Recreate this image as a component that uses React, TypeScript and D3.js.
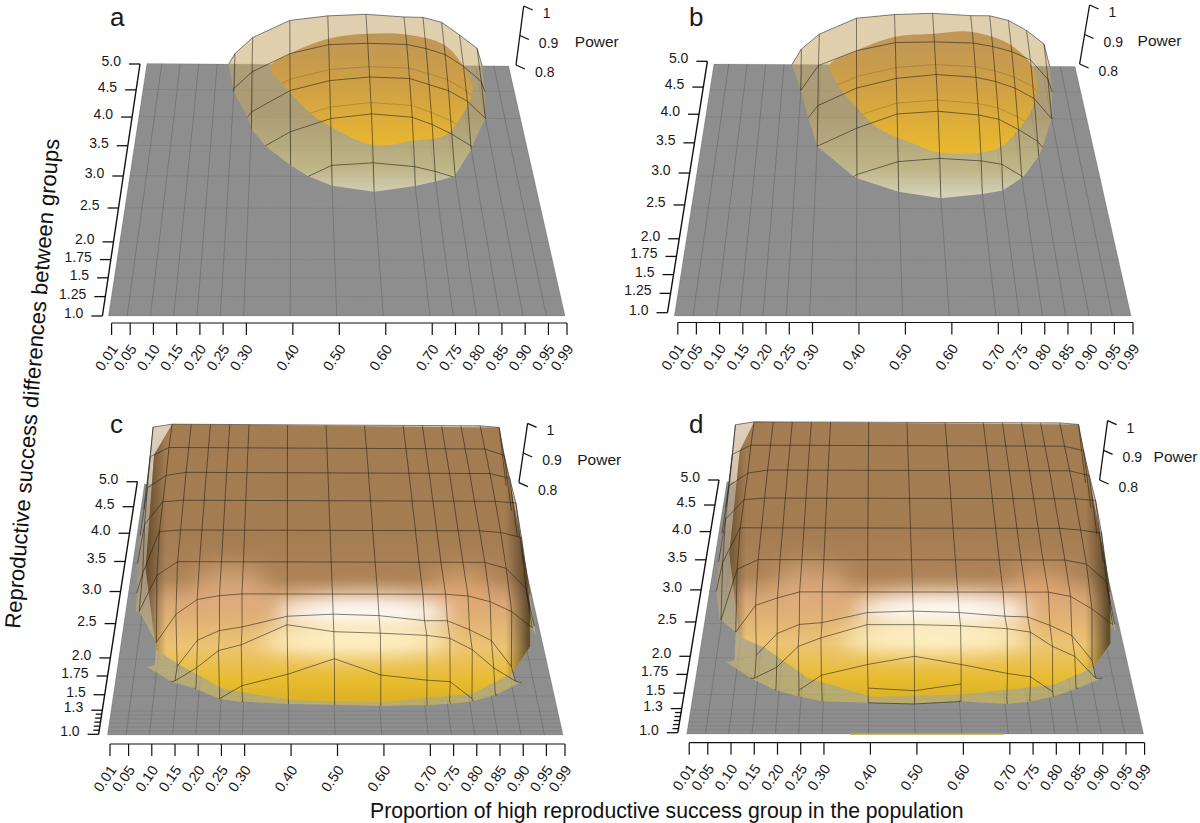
import React from "react";
import * as d3 from "d3";

const pCols = [0.01,0.05,0.10,0.15,0.20,0.25,0.30,0.40,0.50,0.60,0.70,0.75,0.80,0.85,0.90,0.95,0.99];
const pLabels = pCols.map(p => p.toFixed(2));
const zTicks = [0.8, 0.9, 1];
const zLabels = ["0.8", "0.9", "1"];
const FLOOR = 0.8;

const rTicksTop = [5,4.5,4,3.5,3,2.5,2,1.75,1.5,1.25,1];
const rLabelsTop = ["5.0","4.5","4.0","3.5","3.0","2.5","2.0","1.75","1.5","1.25","1.0"];
const rTicksBottom = [5,4.5,4,3.5,3,2.5,2,1.75,1.5,1.3,1.25,1.2,1.15,1.1,1.05,1];
const rLabelsBottom = ["5.0","4.5","4.0","3.5","3.0","2.5","2.0","1.75","1.5","1.3","","","","","","1.0"];

const rowsTop = [5,4.5,4,3.5,3,2.5];
const rowsBottom = [5,4.5,4,3.5,3,2.5,2,1.75,1.5,1.3,1.25,1.2];
const faintRows = [4.15, 3.65];

type V = number | null;

const powerA: V[][] = [
 [.60,.62,.65,.70,.74,.835,.889,.947,.963,.969,.961,.96,.944,.902,.858,.70,.60],
 [.55,.57,.60,.65,.70,.805,.859,.919,.949,.954,.951,.938,.919,.881,.832,.70,.58],
 [.50,.52,.56,.60,.66,.74,.817,.885,.917,.929,.925,.906,.887,.854,.80,.66,.56],
 [.48,.50,.52,.56,.62,.70,.775,.844,.885,.90,.89,.868,.839,.803,.74,.64,.54],
 [.45,.47,.50,.53,.58,.64,.71,.775,.833,.841,.83,.816,.798,.77,.70,.62,.52],
 [.42,.44,.46,.50,.54,.60,.64,.70,.723,.756,.73,.71,.70,.68,.64,.58,.50],
];
const powerB: V[][] = [
 [.60,.62,.65,.70,.76,.852,.902,.956,.969,.974,.967,.967,.952,.919,.874,.70,.60],
 [.55,.57,.60,.65,.71,.80,.881,.93,.957,.96,.957,.946,.93,.903,.841,.70,.58],
 [.50,.52,.56,.60,.67,.765,.838,.894,.925,.938,.93,.917,.896,.864,.80,.66,.56],
 [.48,.50,.52,.56,.63,.72,.80,.856,.90,.909,.898,.885,.854,.818,.75,.64,.54],
 [.45,.47,.50,.53,.58,.65,.73,.806,.845,.855,.848,.838,.803,.76,.70,.62,.52],
 [.42,.44,.46,.50,.54,.60,.65,.70,.751,.774,.759,.75,.70,.68,.64,.58,.50],
];
const powerC: V[][] = [
 [.76,.99,1,1,1,1,1,1,1,1,1,1,1,1,1,.995,.78],
 [.76,.97,1,1,1,1,1,1,1,1,1,1,1,1,1,.98,.78],
 [.76,.95,.99,1,1,1,1,1,1,1,1,1,1,1,1,.985,.78],
 [.75,.92,.99,.995,.995,.995,.995,.995,.995,.995,.995,.995,.995,.995,.995,.99,.78],
 [.74,.86,.985,.99,.99,.99,.99,.99,.99,.99,.99,.99,.99,.99,.985,.97,.78],
 [null,.84,.945,.985,.985,.985,.985,.985,.985,.985,.985,.985,.985,.985,.967,.91,.76],
 [null,null,.847,.927,.969,.98,.985,.985,.985,.985,.985,.985,.98,.964,.936,.89,null],
 [null,null,.834,.83,.903,.93,.94,.97,.976,.972,.958,.958,.933,.903,.83,null,null],
 [null,null,.881,.841,.877,.924,.94,.995,.976,.972,.966,.958,.927,.877,.841,null,null],
 [null,null,.92,.88,.862,.834,.869,.90,.942,.898,.884,.88,.834,.844,.878,null,null],
 [null,null,.93,.89,.871,.844,.835,.855,.855,.85,.846,.837,.839,.855,.888,null,null],
 [null,null,.941,.901,.882,.856,.847,.84,.838,.835,.838,.841,.848,.866,.90,null,null],
];
const powerD: V[][] = [
 [.76,.99,1,1,1,1,1,1,1,1,1,1,1,1,1,.995,.78],
 [.76,.97,1,1,1,1,1,1,1,1,1,1,1,1,1,.985,.78],
 [.76,.95,.99,1,1,1,1,1,1,1,1,1,1,1,1,.985,.78],
 [.75,.93,.99,.995,.995,.995,.995,.995,.995,.995,.995,.995,.995,.995,.995,.99,.78],
 [.74,.887,.99,.99,.99,.99,.99,.99,.99,.99,.99,.99,.99,.99,.985,.976,.78],
 [null,.81,.957,.985,.985,.985,.985,.985,.985,.985,.985,.985,.985,.985,.973,.923,.76],
 [null,null,.872,.947,.968,.985,.985,.985,.985,.985,.985,.985,.985,.973,.938,.894,null],
 [null,null,.843,.857,.917,.942,.947,.975,.979,.975,.965,.963,.94,.912,.843,null,null],
 [null,null,.89,.845,.874,.931,.954,.99,.99,.987,.979,.97,.931,.904,.845,null,null],
 [null,null,.929,.884,.853,.853,.893,.922,.944,.922,.898,.889,.849,.858,.884,null,null],
 [null,null,.94,.896,.865,.847,.835,.869,.862,.88,.842,.835,.847,.869,.896,null,null],
 [null,null,.95,.906,.875,.857,.844,.84,.837,.844,.837,.844,.857,.879,.906,null,null],
];

const coreA_p = [.40,.35,.40,.45,.50,.60,.70,.78,.83,.87,.85,.80,.70,.60,.50];
const coreA_r = [4.5,4.45,3.98,3.65,3.41,3.18,3.26,3.44,3.78,4.27,4.5,4.65,4.68,4.66,4.6];
const coreB_p = [.40,.33,.35,.40,.45,.54,.60,.74,.79,.85,.86,.80,.70,.60,.50];
const coreB_r = [4.5,4.45,4.16,3.76,3.43,3.17,3.06,3.16,3.43,3.95,4.4,4.6,4.7,4.64,4.6];
const coreC_p = [.10,.95,.955,.97,.965,.945,.90,.80,.60,.41,.26,.155,.10,.06,.06];
const coreC_r = [5,5,4,3,2.5,1.9,1.65,1.32,1.22,1.22,1.33,1.74,1.92,2.95,4.5];
const coreD_p = [.10,.95,.955,.97,.965,.945,.90,.80,.60,.41,.27,.17,.11,.07,.07];
const coreD_r = [5,5,4,3,2.5,1.9,1.65,1.33,1.22,1.22,1.33,1.74,1.92,2.95,4.5];

const meshLimitRows = [1.75, 1.5, 1.3];
const meshLimitLow = [0.15, 0.15, 0.25];
const meshLimitHigh = [0.90, 0.90, 0.80];
const undersideP = [0.36, 0.69];
const undersideR = 1;

type Pt = [number, number];
interface Layout {
  id: string; letter: string; kind: "dome" | "wall";
  BL: Pt; BR: Pt; TL: Pt; TR: Pt; persp: number;
  axisY0: Pt; axisY1: Pt; axisX: [number, number]; axisXY: number;
  zAxis0: Pt; zAxis1: Pt; letterAt: Pt; powerDx: number;
  rows: number[]; power: V[][]; coreP: number[]; coreR: number[];
  rTicks: number[]; rLabels: string[]; partialRows: number[];
}

const panels: Layout[] = [
  { id:"a", letter:"a", kind:"dome", BL:[108.5,316], BR:[565,316], TL:[147,63.5], TR:[508.6,66], persp:1.25,
    axisY0:[102.4,316], axisY1:[140,64], axisX:[111.6,567], axisXY:323, zAxis0:[516,65], zAxis1:[523.7,6], letterAt:[110,26], powerDx:55,
    rows:rowsTop, power:powerA, coreP:coreA_p, coreR:coreA_r, rTicks:rTicksTop, rLabels:rLabelsTop, partialRows:[] },
  { id:"b", letter:"b", kind:"dome", BL:[674.4,316], BR:[1131,316], TL:[714,64], TR:[1075,66.5], persp:1.25,
    axisY0:[667.5,312.7], axisY1:[707.4,61.3], axisX:[677.8,1133], axisXY:322.5, zAxis0:[1079.6,64], zAxis1:[1089.6,5], letterAt:[689,26], powerDx:53,
    rows:rowsTop, power:powerB, coreP:coreB_p, coreR:coreB_r, rTicks:rTicksTop, rLabels:rLabelsTop, partialRows:[] },
  { id:"c", letter:"c", kind:"wall", BL:[107.5,735], BR:[563,735], TL:[144.6,484], TR:[507.5,486], persp:1.3,
    axisY0:[98.6,734.3], axisY1:[137.4,481.7], axisX:[110,565], axisXY:744, zAxis0:[518.9,482.7], zAxis1:[527.6,423.3], letterAt:[110,433], powerDx:54,
    rows:rowsBottom, power:powerC, coreP:coreC_p, coreR:coreC_r, rTicks:rTicksBottom, rLabels:rLabelsBottom, partialRows:[] },
  { id:"d", letter:"d", kind:"wall", BL:[686.8,734], BR:[1143.5,734], TL:[727,481.7], TR:[1086.8,483], persp:1.3,
    axisY0:[677.8,732.7], axisY1:[719,480], axisX:[689.2,1144.6], axisXY:742.7, zAxis0:[1099.6,480], zAxis1:[1107.6,420.7], letterAt:[689,433], powerDx:50,
    rows:rowsBottom, power:powerD, coreP:coreD_p, coreR:coreD_r, rTicks:rTicksBottom, rLabels:rLabelsBottom, partialRows:[1.25,1.2] },
];

const FONT = "'Liberation Sans', Arial, sans-serif";

function Panel({ L }: { L: Layout }) {
  const depth = (r: number) => { const u = (r - 1) / 4; return (L.persp * u) / (1 + (L.persp - 1) * u); };
  const pFrac = d3.scaleLinear().domain([0.01, 0.99]).range([0, 1]);
  const cx = (L.BL[0] + L.BR[0]) / 2;
  const backW = L.TR[0] - L.TL[0];
  const zPx = d3.scaleLinear().domain([FLOOR, 1]).range([0, 60]);

  const project = (p: number, r: number, z: number): Pt => {
    const t = depth(r), f = pFrac(p);
    const lx = d3.interpolateNumber(L.BL[0], L.TL[0])(t);
    const rx = d3.interpolateNumber(L.BR[0], L.TR[0])(t);
    const ly = d3.interpolateNumber(L.BL[1], L.TL[1])(t);
    const ry = d3.interpolateNumber(L.BR[1], L.TR[1])(t);
    const px = lx + (rx - lx) * f, py = ly + (ry - ly) * f;
    const scale = (rx - lx) / backW;
    const zn = zPx(z);
    const mid = (lx + rx) / 2;
    return [mid + (px - mid) * (1 + 0.04 * zn / 60), py - zn * scale];
  };

  const zAt = (p: number, r: number) => {
    const i = Math.min(Math.max(d3.bisectRight(pCols, p) - 1, 0), pCols.length - 2);
    let j = 0;
    while (j < L.rows.length - 2 && L.rows[j + 1] >= r) j++;
    const fp = (p - pCols[i]) / (pCols[i + 1] - pCols[i]);
    const fr = (L.rows[j] - r) / (L.rows[j] - L.rows[j + 1]);
    const g = (a: V) => (a === null ? FLOOR : a);
    const a = g(L.power[j][i]), b = g(L.power[j][i + 1]), c = g(L.power[j + 1][i]), e = g(L.power[j + 1][i + 1]);
    return (a * (1 - fp) + b * fp) * (1 - fr) + (c * (1 - fp) + e * fp) * fr;
  };

  type Q = { p: number; r: number; z: number };
  const clipPoly = (pts: Q[]) => {
    const out: Q[] = [];
    pts.forEach((a, k) => {
      const b = pts[(k + 1) % pts.length];
      const ia = a.z >= FLOOR, ib = b.z >= FLOOR;
      if (ia) out.push(a);
      if (ia !== ib) {
        const t = (FLOOR - a.z) / (b.z - a.z);
        out.push({ p: a.p + (b.p - a.p) * t, r: a.r + (b.r - a.r) * t, z: FLOOR });
      }
    });
    return out;
  };

  const line = d3.line<Pt>();
  const cells: string[] = [];
  L.rows.slice(0, -1).forEach((r0, j) => {
    pCols.slice(0, -1).forEach((p0, i) => {
      const raw: [number, number, V][] = [
        [p0, r0, L.power[j][i]],
        [pCols[i + 1], r0, L.power[j][i + 1]],
        [pCols[i + 1], L.rows[j + 1], L.power[j + 1][i + 1]],
        [p0, L.rows[j + 1], L.power[j + 1][i]],
      ];
      const valid = raw.filter(c => c[2] !== null).map(c => ({ p: c[0], r: c[1], z: c[2] as number }));
      if (valid.length < 3) return;
      const poly = clipPoly(valid);
      if (poly.length < 3) return;
      cells.push((line(poly.map(q => project(q.p, q.r, q.z))) as string) + "Z");
    });
  });

  const segPath = (pts: (Q | null)[]) => {
    let d = "";
    for (let k = 0; k < pts.length - 1; k++) {
      const a = pts[k], b = pts[k + 1];
      if (!a || !b) continue;
      const ia = a.z >= FLOOR, ib = b.z >= FLOOR;
      if (!ia && !ib) continue;
      let s = a, e = b;
      if (ia !== ib) {
        const t = (FLOOR - a.z) / (b.z - a.z);
        const m = { p: a.p + (b.p - a.p) * t, r: a.r + (b.r - a.r) * t, z: FLOOR };
        if (ia) e = m; else s = m;
      }
      d += line([project(s.p, s.r, s.z), project(e.p, e.r, e.z)]) as string;
    }
    return d;
  };

  const meshRows = L.rows.map((r, j) => {
    const hidden = L.kind === "wall" && r < 1.3;
    if (hidden && !L.partialRows.includes(r)) return "";
    const lim = L.kind === "wall" ? meshLimitRows.indexOf(r) : -1;
    const pts = pCols.map((p, i) => {
      const v = L.power[j][i];
      if (v === null) return null;
      if (hidden && (p < 0.4 || p > 0.62)) return null;
      if (lim >= 0 && (p < meshLimitLow[lim] || p > meshLimitHigh[lim])) return null;
      return { p, r, z: v };
    });
    return segPath(pts);
  });
  const meshCols = pCols.map((p, i) =>
    segPath(L.rows.map((r, j) => {
      const v = L.power[j][i];
      if (v === null) return null;
      if (L.kind === "wall" && r < 2 && (p <= 0.1 || p >= 0.95)) return null;
      return { p, r, z: v };
    }))
  );
  const faintPaths = L.kind === "dome"
    ? faintRows.map(r => line(pCols.filter(p => p >= 0.3 && p <= 0.9).map(p => project(p, r, zAt(p, r)))) as string)
    : [];

  const corePts = L.coreP.map((p, k) => project(p, L.coreR[k], zAt(p, L.coreR[k])));
  const corePath = (L.kind === "dome" ? d3.line<Pt>().curve(d3.curveCatmullRomClosed)(corePts) : (line(corePts) as string) + "Z") as string;

  const backY = L.TL[1];
  const x0 = L.TL[0] - 60, x1 = L.BR[0] + 40;
  const rectAll = { x: x0, y: backY - 80, width: x1 - x0, height: L.BL[1] - backY + 90 };

  const axisT = d3.scaleLinear().domain([0, 1]);
  const tickXY = (r: number): Pt => {
    const t = depth(r);
    return [axisT.range([L.axisY0[0], L.axisY1[0]])(t), axisT.range([L.axisY0[1], L.axisY1[1]])(t)];
  };
  const xScale = d3.scaleLinear().domain([0.01, 0.99]).range(L.axisX);
  const zAxisX = d3.scaleLinear().domain([0.8, 1]).range([L.zAxis0[0], L.zAxis1[0]]);
  const zAxisY = d3.scaleLinear().domain([0.8, 1]).range([L.zAxis0[1], L.zAxis1[1]]);

  const planePath = (line([project(0.01,1,FLOOR), project(0.99,1,FLOOR), project(0.99,5,FLOOR), project(0.01,5,FLOOR)]) as string) + "Z";
  const midX = cx + (L.kind === "wall" ? 0 : 20);

  return (
    <g>
      <defs>
        <clipPath id={`outer-${L.id}`}>{cells.map((d, k) => <path key={k} d={d} />)}</clipPath>
        <clipPath id={`core-${L.id}`}><path d={corePath} /></clipPath>
        <filter id={`soft-${L.id}`} x="-60%" y="-100%" width="220%" height="300%"><feGaussianBlur stdDeviation="10" /></filter>
        {L.kind === "dome" ? (
          <>
            <linearGradient id={`og-${L.id}`} gradientUnits="userSpaceOnUse" x1="0" x2="0" y1={backY - 50} y2={backY + 132}>
              <stop offset="0" stopColor="#c7a86d" stopOpacity=".55" />
              <stop offset=".55" stopColor="#c4a860" stopOpacity=".55" />
              <stop offset=".85" stopColor="#dccf84" stopOpacity=".62" />
              <stop offset="1" stopColor="#f2ecd0" stopOpacity=".72" />
            </linearGradient>
            <linearGradient id={`cg-${L.id}`} gradientUnits="userSpaceOnUse" x1="0" x2="0" y1={backY - 30} y2={backY + 85}>
              <stop offset="0" stopColor="#bf9658" />
              <stop offset=".45" stopColor="#cfa045" />
              <stop offset="1" stopColor="#e8b82f" />
            </linearGradient>
          </>
        ) : (
          <>
            <linearGradient id={`og-${L.id}`} gradientUnits="userSpaceOnUse" x1="0" x2="0" y1={backY - 62} y2={backY + 220}>
              <stop offset="0" stopColor="#d8bfa8" stopOpacity=".75" />
              <stop offset=".5" stopColor="#a89270" stopOpacity=".7" />
              <stop offset=".78" stopColor="#d0bc84" stopOpacity=".6" />
              <stop offset="1" stopColor="#dcc450" stopOpacity=".55" />
            </linearGradient>
            <linearGradient id={`cg-${L.id}`} gradientUnits="userSpaceOnUse" x1="0" x2="0" y1={backY - 62} y2={backY + 222}>
              <stop offset="0" stopColor="#a47c52" />
              <stop offset=".38" stopColor="#a47c52" />
              <stop offset=".55" stopColor="#ad8458" />
              <stop offset=".63" stopColor="#d8a676" />
              <stop offset=".79" stopColor="#ecc474" />
              <stop offset=".91" stopColor="#e8bc30" />
              <stop offset="1" stopColor="#d8b020" />
            </linearGradient>
            <linearGradient id={`side-${L.id}`} gradientUnits="userSpaceOnUse" y1="0" y2="0" x1={cx - 192} x2={cx + 193}>
              <stop offset="0" stopColor="#4d3a20" stopOpacity=".85" />
              <stop offset=".06" stopColor="#4d3a20" stopOpacity="0" />
              <stop offset=".94" stopColor="#4a3a20" stopOpacity="0" />
              <stop offset="1" stopColor="#3f3218" stopOpacity=".8" />
            </linearGradient>
          </>
        )}
      </defs>

      <path d={planePath} fill="#8e8e8e" />
      {L.rTicks.map(r => (
        <path key={r} d={line([project(0.01, r, FLOOR), project(0.99, r, FLOOR)]) as string} stroke="#444" strokeOpacity=".2" strokeWidth=".7" fill="none" />
      ))}
      {pCols.map(p => (
        <path key={p} d={line([project(p, 1, FLOOR), project(p, 5, FLOOR)]) as string} stroke="#333" strokeOpacity=".35" strokeWidth=".7" fill="none" />
      ))}
      {L.partialRows.length > 0 && (
        <path d={line(undersideP.map(p => project(p, undersideR, FLOOR))) as string} stroke="#b9ac45" strokeWidth={1.6} fill="none" />
      )}

      <g clipPath={`url(#outer-${L.id})`}>
        <rect {...rectAll} fill={`url(#og-${L.id})`} />
      </g>
      <g clipPath={`url(#core-${L.id})`}>
        <rect {...rectAll} fill={`url(#cg-${L.id})`} />
        {L.kind === "wall" && (
          <>
            <ellipse cx={midX - 105} cy={backY + 103} rx={38} ry={22} fill="#e8b488" fillOpacity=".55" filter={`url(#soft-${L.id})`} />
            <ellipse cx={midX + 125} cy={backY + 108} rx={32} ry={24} fill="#e8ac74" fillOpacity=".55" filter={`url(#soft-${L.id})`} />
            <ellipse cx={midX + 28} cy={backY + 129} rx={88} ry={16} fill="#ffffff" filter={`url(#soft-${L.id})`} />
            <ellipse cx={midX + 20} cy={backY + 156} rx={95} ry={15} fill="#fff3c8" filter={`url(#soft-${L.id})`} />
            <rect {...rectAll} fill={`url(#side-${L.id})`} />
          </>
        )}
      </g>

      <g fill="none" stroke="#1d1a12" strokeOpacity=".72" strokeWidth=".75">
        {meshRows.map((d, k) => d && <path key={`r${k}`} d={d} />)}
        {meshCols.map((d, k) => d && <path key={`c${k}`} d={d} />)}
      </g>
      <g fill="none" stroke="#3a2c10" strokeOpacity=".3" strokeWidth=".7" clipPath={`url(#core-${L.id})`}>
        {faintPaths.map((d, k) => <path key={k} d={d} />)}
      </g>

      <g fontFamily={FONT} fill="#1a1a1a">
        <text x={L.letterAt[0]} y={L.letterAt[1]} fontSize={26}>{L.letter}</text>

        <path d={line([L.axisY0, L.axisY1]) as string} stroke="#111" strokeWidth={1.4} fill="none" />
        {L.rTicks.map((r, k) => {
          const [tx, ty] = tickXY(r);
          const minor = L.rLabels[k] === "";
          return (
            <g key={r}>
              <line x1={tx - (minor ? 6 : 11)} x2={tx} y1={ty} y2={ty} stroke="#111" strokeWidth={1.3} />
              {!minor && <text x={tx - 19} y={ty - 3} textAnchor="end" dominantBaseline="central" fontSize={14}>{L.rLabels[k]}</text>}
            </g>
          );
        })}

        <line x1={L.axisX[0]} x2={L.axisX[1]} y1={L.axisXY} y2={L.axisXY} stroke="#111" strokeWidth={1.2} />
        {pCols.map((p, k) => {
          const tx = xScale(p);
          return (
            <g key={p}>
              <line x1={tx} x2={tx} y1={L.axisXY} y2={L.axisXY + 12} stroke="#111" strokeWidth={1.2} />
              <text transform={`translate(${tx + 3},${L.axisXY + 23}) rotate(-55)`} textAnchor="end" dominantBaseline="central" fontSize={14.5}>{pLabels[k]}</text>
            </g>
          );
        })}

        <line x1={L.zAxis0[0]} y1={L.zAxis0[1]} x2={L.zAxis1[0]} y2={L.zAxis1[1]} stroke="#111" strokeWidth={1.3} />
        {zTicks.map((z, k) => {
          const tx = zAxisX(z), ty = zAxisY(z);
          return (
            <g key={z}>
              <line x1={tx} y1={ty} x2={tx + 9} y2={ty + 4} stroke="#111" strokeWidth={1.3} />
              <text x={tx + 19} y={ty + 7} dominantBaseline="central" fontSize={14}>{zLabels[k]}</text>
            </g>
          );
        })}
        <text x={zAxisX(0.9) + L.powerDx} y={zAxisY(0.9) + 6} dominantBaseline="central" fontSize={15.5}>Power</text>
      </g>
    </g>
  );
}

export default function App() {
  return (
    <svg width={1200} height={823} viewBox="0 0 1200 823" style={{ position: "absolute", left: 0, top: 0, background: "#fff" }}>
      {panels.map(L => <Panel key={L.id} L={L} />)}
      <text transform="translate(20,629) rotate(-85.4)" fontFamily={FONT} fontSize={22} fill="#111">Reproductive success differences between groups</text>
      <text x={370} y={818} fontFamily={FONT} fontSize={21.2} fill="#111">Proportion of high reproductive success group in the population</text>
    </svg>
  );
}
